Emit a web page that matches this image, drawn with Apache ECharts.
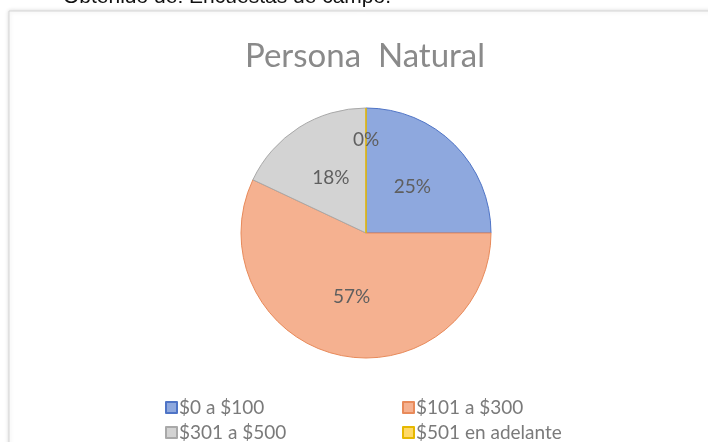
<!DOCTYPE html>
<html>
<head>
<meta charset="utf-8">
<script src="https://cdn.jsdelivr.net/npm/echarts@6/dist/echarts.min.js"></script>
<style>
  html, body { margin: 0; padding: 0; background: #fff; }
  #chart { width: 708px; height: 442px; }
</style>
</head>
<body>
<div id="chart"></div>
<script>
var categories = ['$0 a $100', '$101 a $300', '$301 a $500', '$501 en adelante'];
var values = [25, 57, 18, 0];
var fills = ['#8ea8de', '#f5b190', '#d3d3d3', '#ffd966'];
var edges = ['#4f74c6', '#e88a5a', '#a9a9a9', '#e6b800'];

var chart = echarts.init(document.getElementById('chart'));

var pieData = [];
for (var k = 0; k < categories.length; k++) {
    pieData.push({
        name: categories[k],
        value: values[k],
        itemStyle: { color: fills[k], borderColor: edges[k], borderWidth: 1 }
    });
}

// one legend per entry, laid out as a 2x2 grid
var legendSpots = [[165, 398], [402, 398], [165, 423], [402, 423]];
var legends = [];
for (var m = 0; m < categories.length; m++) {
    legends.push({
        left: legendSpots[m][0],
        top: legendSpots[m][1],
        padding: 0,
        itemWidth: 11, itemHeight: 11,
        icon: 'rect',
        textStyle: { fontFamily: 'Lato', fontSize: 19, color: '#7a7a7a', padding: [0, 0, 0, -3] },
        data: [categories[m]]
    });
}

var option = {
    animation: false,
    backgroundColor: '#fff',
    graphic: [
        {
            type: 'rect',
            shape: { x: 9, y: 11, width: 740, height: 460 },
            style: { fill: '#fff', stroke: '#d6d6d6', lineWidth: 1, shadowBlur: 4, shadowColor: 'rgba(0,0,0,0.15)' },
            z: -10
        },
        {
            type: 'text',
            left: 63,
            top: -13,
            style: { text: 'Obtenido de: Encuestas de campo.', fontFamily: 'Liberation Sans', fontSize: 21, fill: '#111' }
        }
    ],
    title: {
        text: 'Persona  Natural',
        left: 360,
        textAlign: 'center',
        top: 35,
        textStyle: { fontFamily: 'Lato', fontSize: 33, fontWeight: 'normal', color: '#8a8a8a' }
    },
    legend: legends,
    series: [{
        type: 'pie',
        center: [366, 233],
        radius: 125,
        startAngle: 90,
        clockwise: true,
        avoidLabelOverlap: false,
        label: {
            position: 'inner',
            formatter: '{d}%',
            fontFamily: 'Lato',
            fontSize: 19,
            color: '#5f5f5f'
        },
        labelLine: { show: false },
        labelLayout: function (params) {
            // the 0% label sits further out near the rim
            if (params.dataIndex === 3) return { dy: -28 };
            return {};
        },
        emphasis: { disabled: true },
        data: pieData
    }]
};

chart.setOption(option);
</script>
</body>
</html>
